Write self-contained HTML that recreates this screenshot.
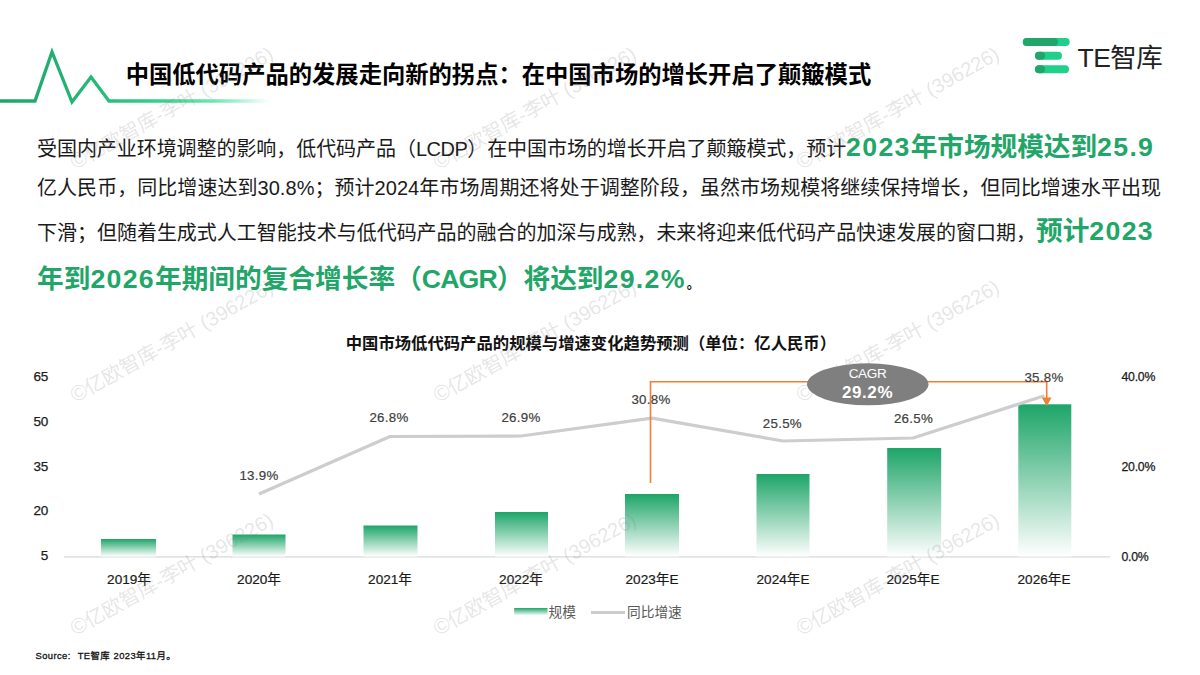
<!DOCTYPE html>
<html lang="zh-CN">
<head>
<meta charset="utf-8">
<title>中国低代码产品的发展走向新的拐点</title>
<style>
html,body{margin:0;padding:0;background:#fff;}
body{width:1200px;height:675px;position:relative;overflow:hidden;font-family:"Liberation Sans","Noto Sans CJK SC",sans-serif;color:#111;}
.abs{position:absolute;white-space:nowrap;}
#title{left:125.7px;top:59px;font-size:23.3px;font-weight:bold;color:#000;line-height:32px;letter-spacing:0;}
.para{left:37px;font-size:20px;color:#1a1a1a;line-height:40px;height:40px;}
.big{font-size:26.7px;font-weight:bold;color:#1fa668;}
.wm b{font-weight:normal;font-size:22px;}
.d{letter-spacing:1.3px;}
.c{letter-spacing:-0.9px;}
#ctitle{left:345.7px;top:332px;font-size:16.35px;font-weight:bold;color:#111;line-height:22px;}
.yl{left:0;width:48px;text-align:right;font-size:13.5px;color:#1a1a1a;line-height:16px;-webkit-text-stroke:0.25px #1a1a1a;letter-spacing:-0.3px;}
.yr{left:1121.5px;font-size:12.3px;color:#1a1a1a;line-height:16px;letter-spacing:-0.25px;-webkit-text-stroke:0.25px #1a1a1a;}
.xl{font-size:13.6px;color:#1a1a1a;line-height:16px;width:120px;text-align:center;top:572px;-webkit-text-stroke:0.2px #1a1a1a;}
.dl{-webkit-text-stroke:0.2px #404040;font-size:13.3px;color:#404040;line-height:14px;width:80px;text-align:center;letter-spacing:0.3px;}
.lg{font-size:13.7px;color:#595959;line-height:16px;top:605.3px;}
#src{left:35.5px;top:650.3px;font-size:9.4px;color:#111;line-height:12px;-webkit-text-stroke:0.3px #111;letter-spacing:0.42px;word-spacing:0.5px;}
.wm{position:absolute;font-size:20px;color:rgba(127,127,127,0.21);white-space:nowrap;transform-origin:0 50%;transform:rotate(-29.3deg);line-height:24px;height:24px;}
svg{position:absolute;left:0;top:0;}
</style>
</head>
<body>
<svg width="1200" height="675" viewBox="0 0 1200 675">
  <defs>
    <linearGradient id="hl" x1="0" y1="0" x2="1" y2="0">
      <stop offset="0" stop-color="#1da467"/><stop offset="0.35" stop-color="#27b877"/><stop offset="0.6" stop-color="#35d28e"/><stop offset="0.8" stop-color="#3fe09b" stop-opacity="0.75"/><stop offset="1" stop-color="#3fe09b" stop-opacity="0"/>
    </linearGradient>
    <linearGradient id="bar" x1="0" y1="0" x2="0" y2="1">
      <stop offset="0" stop-color="#1da568"/><stop offset="1" stop-color="#ffffff"/>
    </linearGradient>
  </defs>
  <!-- header pulse -->
  <polyline points="0,101 35,101 52,52 72,102 91,77 109,101 270,101" fill="none" stroke="url(#hl)" stroke-width="3.3" stroke-linejoin="miter"/>
  <!-- logo -->
  <g>
    <rect x="1022.7" y="38" width="47" height="8" rx="4" fill="#1fd08a"/>
    <rect x="1023" y="38" width="35" height="8" rx="4" fill="#1fa668"/>
    <rect x="1035" y="51.7" width="27" height="8" rx="4" fill="#1fd08a"/>
    <rect x="1035" y="51.7" width="10" height="8" rx="4" fill="#1fa668"/>
    <rect x="1035" y="65.3" width="34" height="8" rx="4" fill="#1fd08a"/>
    <rect x="1035" y="65.3" width="10" height="8" rx="4" fill="#1fa668"/>
  </g>
  <!-- axis -->
  <line x1="64" y1="556.8" x2="1110" y2="556.8" stroke="#d9d9d9" stroke-width="1.2"/>
  <!-- bars -->
  <rect x="101" y="539" width="55" height="17.5" fill="url(#bar)"/>
  <rect x="232.5" y="534.5" width="53" height="22" fill="url(#bar)"/>
  <rect x="363.5" y="525.5" width="54" height="31" fill="url(#bar)"/>
  <rect x="495" y="512" width="53" height="44.5" fill="url(#bar)"/>
  <rect x="625" y="494" width="54" height="62.5" fill="url(#bar)"/>
  <rect x="756.5" y="474" width="53" height="82.5" fill="url(#bar)"/>
  <rect x="887.2" y="448" width="54" height="108.5" fill="url(#bar)"/>
  <rect x="1018.3" y="404.3" width="53" height="152.2" fill="url(#bar)"/>
  <!-- growth line -->
  <polyline points="259,494 390,436.5 521,436 652,418.2 783,441 913,438 1044.4,395.8" fill="none" stroke="#cdcdcd" stroke-width="3.2" stroke-linejoin="round"/>
  <!-- connector -->
  <polyline points="650.5,483 650.5,381.8 1046.7,381.8 1046.7,399" fill="none" stroke="#ee8036" stroke-width="1.6"/>
  <polygon points="1041.8,397.5 1051.6,397.5 1046.7,406.2" fill="#ee8036"/>
  <!-- CAGR bubble -->
  <ellipse cx="867.75" cy="384.3" rx="60.75" ry="21" fill="#7f7f7f"/>
  <!-- legend -->
  <rect x="514.2" y="608" width="33.3" height="7.5" fill="url(#bar)"/>
  <line x1="591" y1="612.5" x2="625" y2="612.5" stroke="#cdcdcd" stroke-width="3.2"/>
</svg>

<div class="abs" id="title">中国低代码产品的发展走向新的拐点：在中国市场的增长开启了颠簸模式</div>
<div class="abs" id="logo" style="left:1077.5px;top:40.5px;font-size:26.5px;line-height:34px;color:#222;letter-spacing:-0.5px;">TE智库</div>

<div class="abs para" style="top:127px;letter-spacing:-0.06px;">受国内产业环境调整的影响，低代码产品（<span style="letter-spacing:-0.5px">LCDP</span>）在中国市场的增长开启了颠簸模式，预计<span class="big"><span class="d">2023</span>年市场规模达到<span class="d">25.9</span></span></div>
<div class="abs para" style="top:167.5px;letter-spacing:0.047px;">亿人民币，同比增速达到30.8%；预计2024年市场周期还将处于调整阶段，虽然市场规模将继续保持增长，但同比增速水平出现</div>
<div class="abs para" style="top:211px;letter-spacing:-0.02px;">下滑；但随着生成式人工智能技术与低代码产品的融合的加深与成熟，未来将迎来低代码产品快速发展的窗口期，<span class="big">预计<span class="d">2023</span></span></div>
<div class="abs para" style="top:259.4px;"><span class="big">年到<span class="d">2026</span>年期间的复合增长率（<span class="c">CAGR</span>）将达到<span class="d">29.2%</span></span><span style="font-size:13px;margin-left:1px;font-weight:bold;color:#111;">。</span></div>

<div class="abs" id="ctitle">中国市场低代码产品的规模与增速变化趋势预测（单位：亿人民币）</div>

<div class="abs yl" style="top:369px;">65</div>
<div class="abs yl" style="top:414px;">50</div>
<div class="abs yl" style="top:459px;">35</div>
<div class="abs yl" style="top:503px;">20</div>
<div class="abs yl" style="top:548px;">5</div>
<div class="abs yr" style="top:369px;">40.0%</div>
<div class="abs yr" style="top:459px;">20.0%</div>
<div class="abs yr" style="top:549px;">0.0%</div>

<div class="abs xl" style="left:69px;">2019年</div>
<div class="abs xl" style="left:199px;">2020年</div>
<div class="abs xl" style="left:330px;">2021年</div>
<div class="abs xl" style="left:461px;">2022年</div>
<div class="abs xl" style="left:592px;">2023年E</div>
<div class="abs xl" style="left:723px;">2024年E</div>
<div class="abs xl" style="left:853px;">2025年E</div>
<div class="abs xl" style="left:984px;">2026年E</div>

<div class="abs dl" style="left:219px;top:469px;">13.9%</div>
<div class="abs dl" style="left:349px;top:411px;">26.8%</div>
<div class="abs dl" style="left:481px;top:411px;">26.9%</div>
<div class="abs dl" style="left:611px;top:393px;">30.8%</div>
<div class="abs dl" style="left:742.4px;top:416.6px;">25.5%</div>
<div class="abs dl" style="left:873.5px;top:412px;">26.5%</div>
<div class="abs dl" style="left:1004px;top:371px;">35.8%</div>

<div class="abs" style="left:807px;top:365.8px;width:121px;text-align:center;font-size:13.6px;line-height:16px;color:#fff;letter-spacing:-0.4px;">CAGR</div>
<div class="abs" style="left:807px;top:382.8px;width:121px;text-align:center;font-size:17px;line-height:20px;color:#fff;font-weight:bold;letter-spacing:0.6px;">29.2%</div>

<div class="abs lg" style="left:548.5px;">规模</div>
<div class="abs lg" style="left:627px;">同比增速</div>

<div class="abs" id="src">Source:&nbsp; TE智库 2023年11月。</div>

<!-- watermarks -->
<div class="wm" style="left:71.7px;top:151.8px;"><b>©</b>亿欧智库-李叶 (396226)</div>
<div class="wm" style="left:434.7px;top:151.8px;"><b>©</b>亿欧智库-李叶 (396226)</div>
<div class="wm" style="left:797.7px;top:151.8px;"><b>©</b>亿欧智库-李叶 (396226)</div>
<div class="wm" style="left:71.7px;top:384.8px;"><b>©</b>亿欧智库-李叶 (396226)</div>
<div class="wm" style="left:434.7px;top:384.8px;"><b>©</b>亿欧智库-李叶 (396226)</div>
<div class="wm" style="left:797.7px;top:384.8px;"><b>©</b>亿欧智库-李叶 (396226)</div>
<div class="wm" style="left:71.7px;top:618.3px;"><b>©</b>亿欧智库-李叶 (396226)</div>
<div class="wm" style="left:434.7px;top:618.3px;"><b>©</b>亿欧智库-李叶 (396226)</div>
<div class="wm" style="left:797.7px;top:618.3px;"><b>©</b>亿欧智库-李叶 (396226)</div>
</body>
</html>
